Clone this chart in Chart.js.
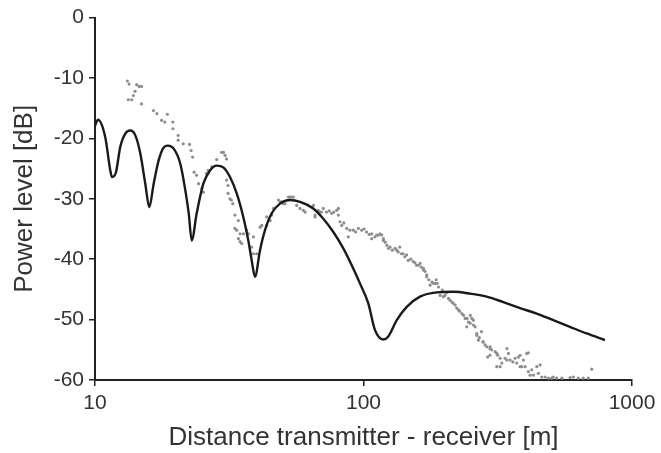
<!DOCTYPE html>
<html>
<head>
<meta charset="utf-8">
<script src="https://cdn.jsdelivr.net/npm/chart.js@4"></script>
<style>
html, body { margin: 0; padding: 0; background: #fff; }
</style>
</head>
<body>
<canvas id="chart" width="661" height="453"></canvas>
<script>
// Two-ray model curve (distance in m, level in dB)
const modelDistance = [10, 10.26, 10.92, 11.40, 11.57, 11.97, 12.42, 12.97, 13.54, 14.13,
    14.75, 15.39, 15.93, 16.54, 17.27, 18.03, 18.70, 19.64, 20.78, 21.70,
    22.34, 22.92, 23.92, 25.32, 26.82, 28.41, 30.05, 31.83, 33.71, 35.67,
    37.24, 38.34, 39.44, 41.17, 42.97, 45.51, 48.87, 53.25, 58.01, 65.01,
    70.85, 77.2, 84.1, 90.4, 97.0, 104.2, 110.3, 118.5, 123.7, 133.0,
    144.9, 162.3, 187.4, 216.0, 249.3, 287.6, 331.7, 382.8, 441.6, 509.3,
    587.5, 678, 793];
const modelLevel = [-17.9, -16.9, -19.8, -25.3, -26.4, -25.6, -21.4, -19.2, -18.7, -19.5,
    -22.5, -27.5, -31.4, -27.5, -23.6, -21.5, -21.2, -21.7, -24.2, -28.6,
    -32.4, -36.9, -32.4, -27.5, -25.3, -24.5, -24.8, -26.4, -29.1, -33.0,
    -36.9, -40.2, -42.9, -38.5, -35.2, -32.4, -30.8, -30.2, -30.5, -31.6,
    -33.3, -35.5, -38.2, -41.0, -44.0, -47.3, -51.7, -53.3, -52.8, -50.1,
    -47.9, -46.2, -45.5, -45.4, -45.7, -46.2, -47.1, -48.1, -49.0, -50.1,
    -51.2, -52.3, -53.4];

// Measured samples [distance, level]
const measured = [
    [13.2, -10.5], [13.4, -11.0], [14.3, -11.1], [14.6, -11.4], [14.9, -11.4], [14.1, -12.2],
    [13.9, -12.9], [13.3, -13.6], [13.7, -13.6], [14.9, -14.3], [16.5, -15.4], [17.0, -15.9],
    [17.7, -17.0], [18.2, -17.3], [18.6, -16.0], [19.5, -17.3], [19.5, -18.4], [20.4, -19.5],
    [20.4, -20.3], [21.3, -20.9], [22.5, -21.0], [22.8, -22.0], [23.1, -23.1], [23.4, -25.6],
    [23.9, -26.1], [24.3, -27.5], [25.0, -28.3], [25.3, -28.9], [28.4, -23.5], [30.1, -22.3],
    [30.5, -22.8], [30.9, -23.4], [30.9, -26.9], [31.3, -27.8], [31.8, -30.0], [32.6, -30.8],
    [27.2, -24.7], [26.0, -25.8], [26.4, -25.3], [29.6, -22.3], [31.3, -29.1], [32.2, -30.2],
    [33.2, -32.7], [34.2, -33.6], [33.2, -34.9], [33.7, -35.2], [34.7, -35.8], [35.7, -35.8],
    [34.2, -36.6], [34.7, -37.1], [36.7, -35.2], [37.3, -35.8], [38.9, -36.3], [38.3, -38.0],
    [40.0, -39.1], [41.2, -34.7], [41.8, -34.4], [43.6, -34.4], [44.9, -33.6], [45.5, -32.7],
    [46.2, -31.6], [48.2, -30.2], [49.6, -30.5], [51.0, -30.8], [52.5, -29.7], [54.0, -29.7],
    [56.4, -31.1], [58.0, -31.6], [59.7, -31.9], [35.2, -37.4], [38.9, -39.1], [43.6, -33.0],
    [60.6, -32.2], [64.3, -31.4], [66.0, -32.7], [67.8, -31.9], [69.7, -32.2], [72.8, -32.2],
    [76.1, -32.4], [79.5, -31.9], [80.6, -32.7], [81.8, -33.8], [83.0, -34.4], [86.6, -34.9],
    [87.8, -36.3], [91.7, -35.2], [95.7, -34.9], [98.5, -35.2], [102.7, -35.5], [107.3, -36.6],
    [110.3, -36.3], [113.6, -36.0], [117.0, -36.0], [118.6, -36.6], [122.3, -37.7], [125.6, -38.0],
    [131.1, -38.2], [134.7, -38.8], [138.5, -39.1], [144.7, -39.3], [146.7, -40.2], [153.2, -40.4],
    [157.7, -41.0], [162.5, -40.7], [167.2, -41.5], [172.0, -42.6], [177.0, -44.3], [184.8, -44.0],
    [190.2, -44.6], [48.9, -30.5], [50.3, -30.8], [53.2, -29.7], [54.8, -29.7], [65.1, -31.1],
    [66.0, -33.0], [68.9, -32.2], [77.5, -32.2], [80.6, -31.6], [89.0, -35.2], [112.0, -36.0],
    [124.0, -38.2], [107.3, -35.8], [115.3, -35.8], [118.6, -36.9], [133.0, -38.5], [140.4, -39.1],
    [160.0, -41.0], [167.2, -41.8], [172.0, -42.9], [180.0, -43.8], [188.0, -44.0], [196.4, -45.1],
    [201.3, -46.0], [210.2, -46.8], [216, -47.3], [222.5, -48.1], [232.5, -49.0], [243.2, -49.8],
    [249.5, -50.6], [260.4, -51.2], [264.2, -52.6], [268, -53.4], [182.2, -44.0], [192.9, -46.0],
    [198.5, -46.2], [207.3, -46.5], [213.3, -47.1], [219.4, -47.6], [225.8, -48.4], [239.0, -49.8],
    [246.0, -50.4], [253.2, -49.8], [242.4, -51.2], [256.6, -50.9], [278.5, -53.7], [283.7, -54.2],
    [288, -54.5], [295.8, -54.8], [295.8, -55.9], [309.2, -55.3], [316.2, -55.9], [322.7, -56.4],
    [327.5, -57.2], [336.8, -56.4], [342, -54.8], [346.6, -55.6], [351.6, -56.7], [360, -57.0],
    [367, -56.4], [372.2, -57.2], [377.7, -56.2], [383.1, -57.8], [394, -56.7], [399.9, -57.8],
    [405.5, -55.6], [411.2, -58.6], [417.4, -59.2], [423.3, -58.3], [429.3, -59.2], [442, -57.8],
    [448, -58.9], [454.8, -57.5], [461, -59.5], [474.7, -59.5], [488, -59.7], [509, -59.5],
    [524, -59.7], [548, -59.7], [588.2, -59.6], [605, -59.5], [631, -59.7], [658, -59.7],
    [687, -59.7], [708, -58.2], [313.6, -57.8], [322.7, -57.8], [290, -56.2], [256.6, -50.1],
    [264.2, -52.3], [279.3, -53.7], [296.2, -54.5], [313.6, -55.6], [342, -56.7], [383.1, -55.9],
    [411.2, -55.5], [388.7, -57.8], [502, -59.7],
    [62, -31.0], [70.8, -31.6], [74.5, -32.0], [84.5, -34.0], [93.5, -35.5], [100.5, -35.0],
    [105, -35.9], [120.5, -37.2], [128, -38.5], [136.5, -38.0], [142.5, -39.6], [150, -40.0],
    [155.5, -40.6], [164, -41.3], [169.5, -42.0], [175, -43.4], [186.5, -43.4], [204, -45.5],
    [228, -48.6], [236, -49.3], [250, -49.3], [270, -53.0], [275, -52.0], [300, -55.0]
];

const xTicks = [10, 100, 1000];
const yMin = -60, yMax = 0, yStep = 10;

const textColor = '#333';
const axisColor = '#222';
const fontFamily = '"Liberation Sans", Arial, sans-serif';

const modelPoints = modelDistance.map((d, i) => ({ x: d, y: modelLevel[i] }));
const measuredPoints = measured.map(p => ({ x: p[0], y: p[1] }));

const ctx = document.getElementById('chart').getContext('2d');
new Chart(ctx, {
    type: 'scatter',
    data: {
        datasets: [{
            type: 'line',
            data: modelPoints,
            borderColor: '#1a1a1a',
            borderWidth: 2.4,
            pointRadius: 0,
            fill: false,
            cubicInterpolationMode: 'monotone',
            order: 0
        }, {
            data: measuredPoints,
            backgroundColor: '#8e8e8e',
            borderWidth: 0,
            pointRadius: 1.6,
            order: 1
        }]
    },
    options: {
        responsive: false,
        animation: false,
        layout: { padding: { top: 17, right: 29, left: 0, bottom: 0 } },
        plugins: { legend: { display: false }, tooltip: { enabled: false } },
        scales: {
            x: {
                type: 'logarithmic',
                min: 10,
                max: 1000,
                afterBuildTicks: s => { s.ticks = xTicks.map(v => ({ value: v })); },
                afterFit: s => { s.height = 73; },
                ticks: {
                    autoSkip: false,
                    maxRotation: 0,
                    padding: 5,
                    color: textColor,
                    font: { family: fontFamily, size: 21 },
                    callback: v => String(v)
                },
                grid: { drawOnChartArea: false, tickLength: 6, color: axisColor, lineWidth: 1.5 },
                border: { color: axisColor, width: 2 },
                title: {
                    display: true,
                    text: 'Distance transmitter - receiver [m]',
                    color: textColor,
                    font: { family: fontFamily, size: 26 },
                    padding: { top: 0, bottom: 0 }
                }
            },
            y: {
                min: yMin,
                max: yMax,
                afterFit: s => { s.width = 95; },
                ticks: {
                    stepSize: yStep,
                    padding: 5,
                    color: textColor,
                    font: { family: fontFamily, size: 21 }
                },
                grid: { drawOnChartArea: false, tickLength: 6, color: axisColor, lineWidth: 1.5 },
                border: { color: axisColor, width: 2 },
                title: {
                    display: true,
                    text: 'Power level [dB]',
                    color: textColor,
                    font: { family: fontFamily, size: 26 },
                    padding: { top: 9, bottom: 0 }
                }
            }
        }
    }
});
</script>
</body>
</html>
